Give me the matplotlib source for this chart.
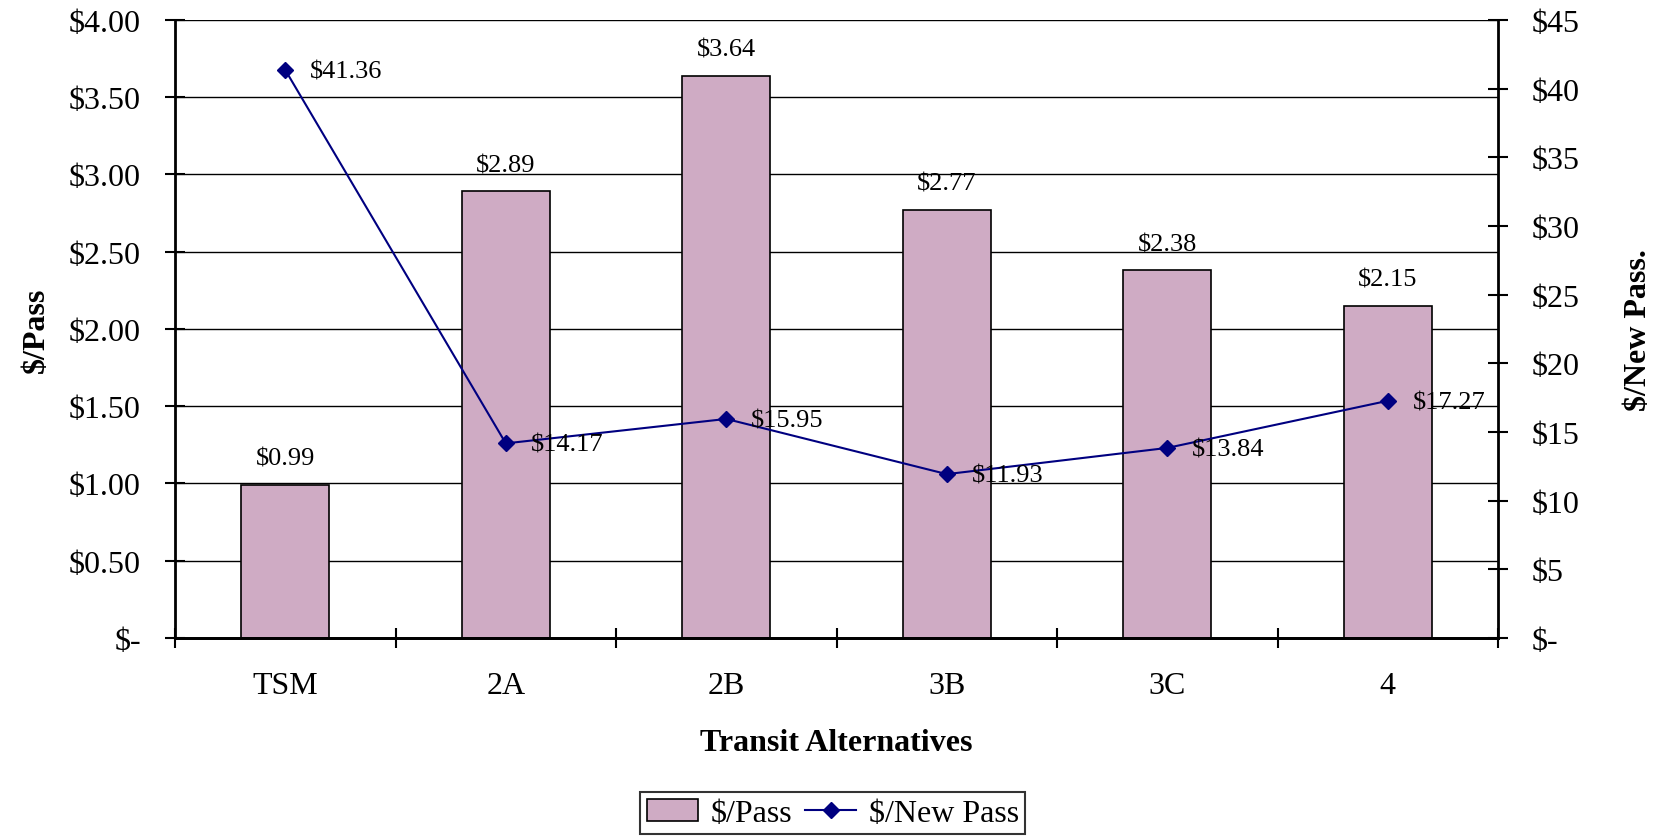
import matplotlib

matplotlib.use("Agg")
import matplotlib.pyplot as plt
import numpy as np
from matplotlib.ticker import FuncFormatter, MultipleLocator

plt.rcParams["font.family"] = ["Liberation Serif", "DejaVu Serif"]

alternatives = ["TSM", "2A", "2B", "3B", "3C", "4"]
cost_per_pass = [0.99, 2.89, 3.64, 2.77, 2.38, 2.15]
cost_per_new_pass = [41.36, 14.17, 15.95, 11.93, 13.84, 17.27]

BAR_COLOR = "#cfabc4"
LINE_COLOR = "#000080"
TICK_FS = 23
LABEL_FS = 19


def dollars_2dp(v, _pos):
    return "$-" if abs(v) < 1e-9 else f"${v:.2f}"


def dollars_int(v, _pos):
    return "$-" if abs(v) < 1e-9 else f"${v:.0f}"


fig = plt.figure(figsize=(16.59, 8.37), dpi=100)
ax = fig.add_axes([0.1055, 0.2366, 0.7975, 0.7383])
ax2 = ax.twinx()

x = np.arange(len(alternatives))
bars = ax.bar(x, cost_per_pass, width=0.4, color=BAR_COLOR, edgecolor="black",
              linewidth=1.2, zorder=2, label="$/Pass")
for xi, v in zip(x, cost_per_pass):
    ax.annotate(f"${v:.2f}", (xi, v), xytext=(0, 11), textcoords="offset points",
                ha="center", va="bottom", fontsize=LABEL_FS)

line, = ax2.plot(x, cost_per_new_pass, color=LINE_COLOR, linewidth=1.5, marker="D",
                 markersize=8, zorder=3, label="$/New Pass")
for xi, v in zip(x, cost_per_new_pass):
    ax2.annotate(f"${v:.2f}", (xi, v), xytext=(18, -1), textcoords="offset points",
                 ha="left", va="center", fontsize=LABEL_FS)

ax.set_xlim(-0.5, len(alternatives) - 0.5)
ax.set_ylim(0, 4.0)
ax2.set_ylim(0, 45)
ax.yaxis.set_major_locator(MultipleLocator(0.5))
ax2.yaxis.set_major_locator(MultipleLocator(5))
ax.yaxis.set_major_formatter(FuncFormatter(dollars_2dp))
ax2.yaxis.set_major_formatter(FuncFormatter(dollars_int))

ax.yaxis.grid(True, color="black", linewidth=1.0, zorder=0)
ax.set_axisbelow(True)

# category ticks sit on the boundaries, labels in the middle
ax.set_xticks(np.arange(len(alternatives) + 1) - 0.5)
ax.set_xticklabels([])
ax.set_xticks(x, minor=True)
ax.set_xticklabels(alternatives, minor=True)
ax.tick_params(axis="x", which="major", direction="inout", length=15, width=1.5)
ax.tick_params(axis="x", which="minor", length=0, pad=24, labelsize=TICK_FS)
ax.tick_params(axis="y", direction="inout", length=15, width=1.5, pad=17, labelsize=TICK_FS)
ax2.tick_params(axis="y", direction="inout", length=15, width=1.5, pad=17, labelsize=TICK_FS)

for a in (ax, ax2):
    a.spines["top"].set_visible(False)
    for sp in ["left", "right", "bottom"]:
        a.spines[sp].set_linewidth(2)
ax.spines["right"].set_visible(False)
ax2.spines["left"].set_visible(False)

ax.set_xlabel("Transit Alternatives", fontsize=TICK_FS, fontweight="bold")
ax.set_ylabel("$/Pass", fontsize=TICK_FS, fontweight="bold")
ax2.set_ylabel("$/New Pass.", fontsize=TICK_FS, fontweight="bold")
ax.xaxis.set_label_coords(0.5, -0.145)
ax.yaxis.set_label_coords(-0.094, 0.5)
ax2.yaxis.set_label_coords(1.095, 0.5)

leg = fig.legend(handles=[bars, line], loc="lower center", bbox_to_anchor=(0.502, 0.0),
                 ncol=2, fontsize=TICK_FS, frameon=True, fancybox=False, edgecolor="black",
                 borderpad=0.2, handlelength=1.6, handletextpad=0.4, columnspacing=0.4,
                 borderaxespad=0.05)
leg.get_frame().set_linewidth(1.5)

fig.savefig("out.png", dpi=100)
